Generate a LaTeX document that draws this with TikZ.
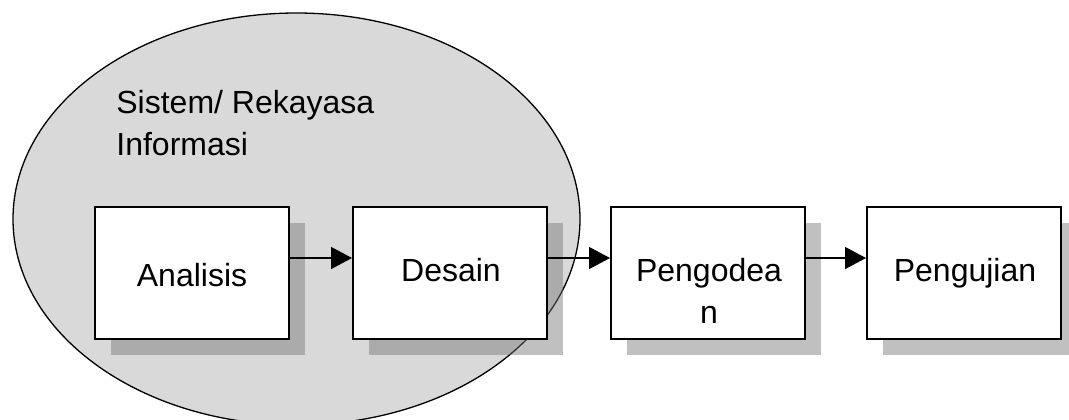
\documentclass[tikz,border=0pt]{standalone}
\usepackage{fontspec}
\setmainfont{Liberation Sans}
\usetikzlibrary{arrows.meta,shadows,shapes.geometric}

\definecolor{ellgray}{RGB}{217,217,217}

\tikzset{
  procbox/.style={draw=black, line width=1pt, fill=white, rectangle,
    minimum width=97pt, minimum height=66pt, inner sep=0pt,
    drop shadow={shadow xshift=8pt, shadow yshift=-8pt, fill=black!55, opacity=0.45}},
  lbl/.style={inner sep=0pt, font=\fontsize{16}{21}\selectfont},
  flow/.style={line width=0.65pt, -{Triangle[length=10.5pt,width=11pt]}},
  sysarea/.style={ellipse, draw=black, line width=0.65pt, fill=ellgray,
    minimum width=283.5pt, minimum height=206pt, inner sep=0pt}
}

\begin{document}
\begin{tikzpicture}[x=0.5pt, y=-0.5pt]
  \useasboundingbox (0,0) rectangle (1069,419);

  % information-system region
  \node[sysarea] (sys) at (296.5,219) {};
  \node[lbl, anchor=base west] (systitle1) at (116,113) {Sistem/ Rekayasa};
  \node[lbl, anchor=base west] (systitle2) at (116,155) {Informasi};

  % process steps
  \node[procbox] (ana) at (192,273) {};
  \node[procbox] (des) at (450,273) {};
  \node[procbox] (kod) at (708,273) {};
  \node[procbox] (uji) at (964,273) {};

  \node[lbl, anchor=base] (tana) at (192,286) {Analisis};
  \node[lbl, anchor=base] (tdes) at (451,281) {Desain};
  \node[lbl, anchor=base] (tkod1) at (709,281) {Pengodea};
  \node[lbl, anchor=base] (tkod2) at (709,323) {n};
  \node[lbl, anchor=base] (tuji) at (965,281) {Pengujian};

  % flow between steps
  \draw[flow] ([yshift=7.5pt]ana.east) -- ([yshift=7.5pt]des.west);
  \draw[flow] ([yshift=7.5pt]des.east) -- ([yshift=7.5pt]kod.west);
  \draw[flow] ([yshift=7.5pt]kod.east) -- ([yshift=7.5pt]uji.west);
\end{tikzpicture}
\end{document}
